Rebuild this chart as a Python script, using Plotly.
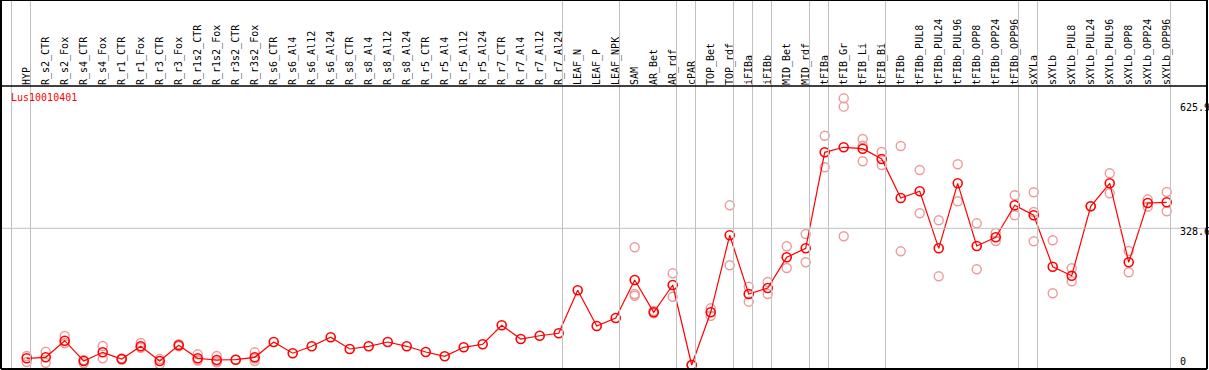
import plotly.graph_objects as go

categories = [
    "HYP", "R_s2_CTR", "R_s2_Fox", "R_s4_CTR", "R_s4_Fox", "R_r1_CTR", "R_r1_Fox",
    "R_r3_CTR", "R_r3_Fox", "R_r1s2_CTR", "R_r1s2_Fox", "R_r3s2_CTR", "R_r3s2_Fox",
    "R_s6_CTR", "R_s6_Al4", "R_s6_Al12", "R_s6_Al24", "R_s8_CTR", "R_s8_Al4",
    "R_s8_Al12", "R_s8_Al24", "R_r5_CTR", "R_r5_Al4", "R_r5_Al12", "R_r5_Al24",
    "R_r7_CTR", "R_r7_Al4", "R_r7_Al12", "R_r7_Al24", "LEAF_N", "LEAF_P", "LEAF_NPK",
    "SAM", "AR_Bet", "AR_rdf", "cPAR", "TOP_Bet", "TOP_rdf", "iFIBa", "iFIBb",
    "MID_Bet", "MID_rdf", "tFIBa", "tFIB_Gr", "tFIB_Li", "tFIB_Bi", "tFIBb",
    "tFIBb_PUL8", "tFIBb_PUL24", "tFIBb_PUL96", "tFIBb_OPP8", "tFIBb_OPP24",
    "tFIBb_OPP96", "sXYLa", "sXYLb", "sXYLb_PUL8", "sXYLb_PUL24", "sXYLb_PUL96",
    "sXYLb_OPP8", "sXYLb_OPP24", "sXYLb_OPP96",
]

mean_values = [
    16.1, 18.5, 58.4, 9.6, 30.5, 14.4, 45.0, 9.6, 47.4, 16.1, 12.0, 12.7, 18.5,
    55.3, 28.4, 45.0, 66.6, 38.5, 45.0, 55.3, 45.0, 31.3, 20.9, 42.6, 49.8,
    95.4, 62.5, 70.4, 76.2, 179.6, 93.8, 113.0,
    204.3, 126.7, 192.3, 0.0, 126.7, 311.8, 170.7, 185.1, 258.9, 280.5,
    511.3, 523.4, 520.0, 495.2, 401.5, 417.6, 280.5, 436.8, 286.1, 307.0, 383.9,
    359.9, 236.3, 214.7, 381.5, 436.8, 246.9, 389.4, 391.1,
]

replicates = [
    [21.6, 7.2], [32.0, 5.5], [69.7, 53.0, 52.5], [12.0, 4.0], [45.7, 16.1],
    [13.0, 16.0], [52.9, 41.6], [14.4, 1.7], [45.0, 50.0], [25.7, 12.0, 10.6],
    [21.6, 7.9, 6.5], [12.7], [30.5, 9.6, 15.4], [], [], [], [], [], [], [], [],
    [], [], [], [], [], [], [], [], [], [], [],
    [283.0, 170.7, 166.6], [129.8, 124.3], [220.4, 164.2], [0.0, 0.0],
    [136.3, 118.5], [383.9, 239.7], [188.2, 152.2], [199.5, 170.7],
    [285.4, 233.2], [314.9, 246.9],
    [551.2, 475.3], [641.1, 621.0, 309.4], [543.3, 527.0, 489.7], [512.1, 480.8],
    [526.5, 273.3], [468.8, 364.7], [347.9, 213.2], [482.5, 393.5],
    [340.6, 230.1], [317.3, 298.1], [408.0, 359.9],
    [415.2, 367.8, 297.4], [299.8, 172.4], [232.5, 201.2], [381.5],
    [460.8, 412.8], [274.1, 222.9], [398.3, 380.6], [415.9, 369.5],
]

group_ends = ["", "HYP", "R_r7_Al24", "LEAF_NPK", "AR_rdf", "cPAR", "TOP_rdf",
              "iFIBa", "iFIBb", "MID_rdf", "tFIBa", "tFIB_Bi", "tFIBb_OPP96",
              "sXYLa", "sXYLb_OPP96"]

y_ticks = [0, 328.6, 625.9]
y_tick_text = ["0", "328.6", "625.9"]
title_text = "Lus10010401"

FONT = "DejaVu Sans Mono"
idx = list(range(len(categories)))

rx, ry = [], []
for i, reps in enumerate(replicates):
    for v in reps:
        rx.append(i)
        ry.append(v)

fig = go.Figure()
fig.add_trace(go.Scatter(
    x=rx, y=ry, mode="markers",
    marker=dict(symbol="circle-open", size=9, color="#ef9a9a", line=dict(width=1.4)),
    hoverinfo="skip", showlegend=False,
))
fig.add_trace(go.Scatter(
    x=idx, y=mean_values, mode="lines+markers",
    line=dict(color="#ff0000", width=1.2),
    marker=dict(symbol="circle-open", size=9, color="#ff0000", line=dict(width=1.6)),
    showlegend=False,
))

W, H = 1209, 370
ml, mr, mt, mb = 1, 2, 86, 1
ph = H - mt - mb
ptop = (H - mb) / ph  # paper y of figure top

shapes = []
for name in group_ends:
    b = -1 if name == "" else categories.index(name)
    shapes.append(dict(type="line", xref="x", yref="paper", x0=b + 0.2, x1=b + 0.2,
                       y0=0, y1=ptop, line=dict(color="#c0c0c0", width=1)))
shapes.append(dict(type="line", xref="paper", yref="y", x0=0, x1=1, y0=y_ticks[1],
                   y1=y_ticks[1], line=dict(color="#c0c0c0", width=1)))
blk = dict(color="#000000", width=2)
shapes += [
    dict(type="line", xref="paper", yref="paper", x0=0, x1=1, y0=ptop, y1=ptop, line=blk),
    dict(type="line", xref="paper", yref="paper", x0=0, x1=1, y0=1, y1=1,
         line=dict(color="#000000", width=1.5)),
    dict(type="line", xref="paper", yref="paper", x0=0, x1=1, y0=0, y1=0, line=blk),
    dict(type="line", xref="paper", yref="paper", x0=0, x1=0, y0=0, y1=ptop, line=blk),
    dict(type="line", xref="paper", yref="paper", x0=1, x1=1, y0=0, y1=ptop, line=blk),
]

annotations = [
    dict(text=title_text, xref="paper", yref="paper", x=8 / (W - ml - mr),
         y=(H - mb - 97) / ph, xanchor="left", yanchor="middle", showarrow=False,
         font=dict(family=FONT, size=10, color="#ff0000")),
]
shifts = [3.3, -3.5, -3.0]
for v, t, s in zip(y_ticks, y_tick_text, shifts):
    annotations.append(dict(text=t, xref="paper", yref="y", x=(1178 - ml) / (W - ml - mr),
                            y=v, yshift=s, xanchor="left", yanchor="middle",
                            showarrow=False, font=dict(family=FONT, size=10, color="#000000")))

fig.update_layout(
    width=W, height=H,
    margin=dict(l=ml, r=mr, t=mt, b=mb, pad=0),
    paper_bgcolor="#ffffff", plot_bgcolor="#ffffff",
    shapes=shapes, annotations=annotations,
    xaxis=dict(range=[-1.353, 62.12], side="top", tickmode="array", tickvals=idx,
               ticktext=categories, tickangle=-90, ticks="",
               tickfont=dict(family=FONT, size=10, color="#000000"),
               showgrid=False, zeroline=False, showline=False, fixedrange=True),
    yaxis=dict(range=[-9.6, 670.7], showticklabels=False, showgrid=False,
               zeroline=False, showline=False, fixedrange=True),
    font=dict(family=FONT),
)

fig.write_html(
    "out.html",
    config={"displayModeBar": False},
    post_script="document.body.style.margin='0';document.body.style.padding='0';"
                "document.documentElement.style.overflow='hidden';",
)
